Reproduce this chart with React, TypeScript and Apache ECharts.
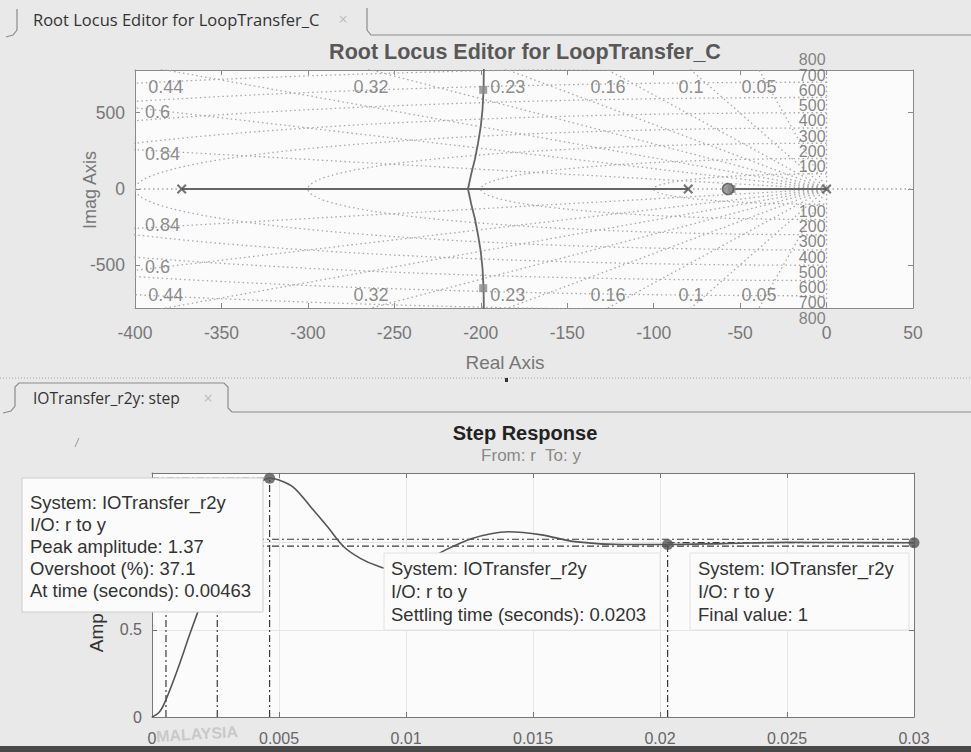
import React, { useEffect, useRef } from "react";
import * as echarts from "echarts";

// ---------- Root locus ----------
const rlXMin = -400;
const rlXMax = 50;
const rlXStep = 50;
const rlYLimit = 780;
const rlYTicks = [-500, 0, 500];
const openLoopPoles = [[-373, 0], [-80, 0], [0, 0]];
const openLoopZeros = [[-57, 0]];
const closedLoopPoles = [[-198.6, 650], [-198.6, -650], [-55, 0]];
const realLocusA = [[-373, 0], [-80, 0]];
const realLocusB = [[-57, 0], [0, 0]];
const branchReal = [-207.4, -205.5, -203.4, -201.6, -200, -199, -198.4, -198.2];
const branchImag = [0, 100, 195, 300, 410, 520, 650, 800];
const dampingRatios = [0.05, 0.1, 0.16, 0.23, 0.32, 0.44, 0.6, 0.84];
const naturalFreqs = [100, 200, 300, 400, 500, 600, 700, 800];

// ---------- Step response ----------
const stepTime = [
  0, 0.0003, 0.00055, 0.001, 0.0015, 0.002, 0.00257, 0.003, 0.0035, 0.004, 0.0043,
  0.00463, 0.005, 0.00557, 0.00625, 0.00692, 0.00755, 0.00822, 0.00889, 0.0094, 0.01,
  0.0108, 0.01166, 0.01257, 0.0133, 0.01403, 0.01534, 0.01664, 0.0185, 0.0203, 0.0225,
  0.025, 0.0275, 0.03,
];
const stepAmp = [
  0, 0.03, 0.1, 0.27, 0.48, 0.68, 0.9, 1.05, 1.19, 1.3, 1.35,
  1.37, 1.36, 1.318, 1.205, 1.09, 0.977, 0.909, 0.866, 0.848, 0.855,
  0.9, 0.966, 1.023, 1.05, 1.0625, 1.045, 1.006, 0.99, 0.99, 0.995,
  1.002, 1.001, 1.0,
];
const peakTime = 0.00463;
const peakAmp = 1.37;
const riseTimes = [0.00055, 0.00257];
const riseLevel = 0.9;
const settlingTime = 0.0203;
const settlingAmp = 0.99;
const settlingBand = [0.98, 1.02];
const finalValue = 1;
const stepTMax = 0.03;
const stepYMax = 1.4;
const stepXStep = 0.005;
const stepYStep = 0.5;
const stepYLabels = [0, 0.5];

const peakText = [
  "System: IOTransfer_r2y",
  "I/O: r to y",
  "Peak amplitude: 1.37",
  "Overshoot (%): 37.1",
  "At time (seconds): 0.00463",
];
const settleText = ["System: IOTransfer_r2y", "I/O: r to y", "Settling time (seconds): 0.0203"];
const finalText = ["System: IOTransfer_r2y", "I/O: r to y", "Final value: 1"];

const FONT = '"Liberation Sans", Arial, Helvetica, sans-serif';
const UI_FONT = '"Open Sans", "Noto Sans", sans-serif';

function buildOption() {
  const dotted = { color: "#a9a9a9", width: 1.3, type: [1.5, 3] };
  const dashDot = { color: "#3a3a3a", width: 1.2, type: [7, 3, 2, 3] };
  const series: any[] = [];
  const top = { xAxisIndex: 0, yAxisIndex: 0 };
  const bot = { xAxisIndex: 2, yAxisIndex: 2 };
  const line = (data: number[][], lineStyle: any, idx: any, z = 1, extra: any = {}) => ({
    type: "line",
    ...idx,
    data,
    showSymbol: false,
    symbol: "none",
    lineStyle,
    silent: true,
    z,
    ...extra,
  });

  // s-plane grid: damping rays
  const R = 4000;
  dampingRatios.forEach((z) => {
    const s = Math.sqrt(1 - z * z);
    series.push(line([[0, 0], [-z * R, s * R]], dotted, top));
    series.push(line([[0, 0], [-z * R, -s * R]], dotted, top));
  });
  series.push(line([[rlXMin, 0], [rlXMax, 0]], dotted, top));
  series.push(line([[0, -rlYLimit], [0, rlYLimit]], dotted, top));
  // natural frequency circles
  naturalFreqs.forEach((wn) => {
    const pts: number[][] = [];
    for (let a = 90; a <= 270; a += 2) {
      const r = (a * Math.PI) / 180;
      pts.push([wn * Math.cos(r), wn * Math.sin(r)]);
    }
    series.push(line(pts, dotted, top));
  });

  // locus
  const locusStyle = { color: "#666", width: 2, type: "solid" };
  series.push(line(realLocusA, locusStyle, top, 3));
  series.push(line(realLocusB, locusStyle, top, 3));
  series.push(line(branchReal.map((x, i) => [x, branchImag[i]]), { ...locusStyle, width: 1.8 }, top, 3));
  series.push(line(branchReal.map((x, i) => [x, -branchImag[i]]), { ...locusStyle, width: 1.8 }, top, 3));

  series.push({
    type: "scatter",
    ...top,
    data: openLoopPoles,
    symbol:
      "path://M0,1.5L1.5,0L5,3.5L8.5,0L10,1.5L6.5,5L10,8.5L8.5,10L5,6.5L1.5,10L0,8.5L3.5,5Z",
    symbolSize: 10,
    itemStyle: { color: "#555" },
    silent: true,
    z: 5,
  });
  series.push({
    type: "scatter",
    ...top,
    data: closedLoopPoles,
    symbol: "rect",
    symbolSize: 8,
    itemStyle: { color: "#8a8a8a" },
    silent: true,
    z: 5,
  });
  series.push({
    type: "scatter",
    ...top,
    data: openLoopZeros,
    symbol: "circle",
    symbolSize: 11,
    itemStyle: { color: "#8a8a8a", borderColor: "#555", borderWidth: 1.5 },
    silent: true,
    z: 6,
  });

  // damping labels
  const zetaLabels: any[] = [];
  dampingRatios.forEach((z) => {
    const s = Math.sqrt(1 - z * z);
    const xTop = (-z * rlYLimit) / s;
    if (xTop >= rlXMin) {
      zetaLabels.push({ value: [xTop, rlYLimit], name: String(z), label: { offset: [0, 17] } });
      zetaLabels.push({ value: [xTop, -rlYLimit], name: String(z), label: { offset: [0, -13] } });
    } else {
      const y = (s * -rlXMin) / z;
      zetaLabels.push({ value: [rlXMin, y], name: String(z), label: { align: "left", offset: [10, 4] } });
      zetaLabels.push({ value: [rlXMin, -y], name: String(z), label: { align: "left", offset: [10, -3] } });
    }
  });
  series.push({
    type: "scatter",
    ...top,
    data: zetaLabels,
    symbolSize: 1,
    itemStyle: { color: "rgba(0,0,0,0)" },
    clip: false,
    silent: true,
    z: 7,
    label: {
      show: true,
      position: "inside",
      formatter: (p: any) => p.name,
      color: "#6f6f6f",
      fontSize: 18,
      fontFamily: FONT,
    },
  });
  // natural frequency labels
  const wnLabels: any[] = [];
  naturalFreqs.forEach((wn) => {
    wnLabels.push({ value: [0, wn], name: String(wn), label: { offset: [-1, -7] } });
    wnLabels.push({ value: [0, -wn], name: String(wn), label: { offset: [-1, 7] } });
  });
  series.push({
    type: "scatter",
    ...top,
    data: wnLabels,
    symbolSize: 1,
    itemStyle: { color: "rgba(0,0,0,0)" },
    clip: false,
    silent: true,
    z: 7,
    label: {
      show: true,
      position: "inside",
      align: "right",
      formatter: (p: any) => p.name,
      color: "#666",
      fontSize: 16,
      fontFamily: FONT,
    },
  });

  // ---- step response ----
  series.push(
    line(stepTime.map((t, i) => [t, stepAmp[i]]), { color: "#555", width: 1.6, type: "solid" }, bot, 4, {
      smooth: 0.35,
    })
  );
  series.push(line([[0, peakAmp], [peakTime, peakAmp]], dashDot, bot, 3));
  series.push(line([[peakTime, 0], [peakTime, peakAmp]], dashDot, bot, 3));
  riseTimes.forEach((t) => series.push(line([[t, 0], [t, riseLevel]], dashDot, bot, 3)));
  settlingBand.forEach((v) => series.push(line([[0, v], [stepTMax, v]], dashDot, bot, 3)));
  series.push(line([[settlingTime, finalValue], [stepTMax, finalValue]], dashDot, bot, 3));
  series.push(line([[settlingTime, 0], [settlingTime, settlingAmp]], dashDot, bot, 3));
  series.push({
    type: "scatter",
    ...bot,
    data: [
      [peakTime, peakAmp],
      [settlingTime, settlingAmp],
      [stepTMax, finalValue],
    ],
    symbol: "circle",
    symbolSize: 11,
    itemStyle: { color: "#555" },
    clip: false,
    silent: true,
    z: 6,
  });

  const axisLineStyle = { color: "#8a8a8a", width: 1 };
  const tick = { show: true, inside: true, length: 5, lineStyle: { color: "#8a8a8a" } };

  const xAxis: any[] = [
    {
      gridIndex: 0,
      type: "value",
      position: "bottom",
      min: rlXMin,
      max: rlXMax,
      interval: rlXStep,
      axisLine: { show: true, onZero: false, lineStyle: axisLineStyle },
      axisTick: tick,
      axisLabel: { color: "#777", fontSize: 17.5, fontFamily: FONT, margin: 16 },
      splitLine: { show: false },
    },
    {
      gridIndex: 0,
      type: "value",
      position: "top",
      min: rlXMin,
      max: rlXMax,
      interval: rlXStep,
      axisLine: { show: true, onZero: false, lineStyle: axisLineStyle },
      axisTick: tick,
      axisLabel: { show: false },
      splitLine: { show: false },
    },
    {
      gridIndex: 1,
      type: "value",
      position: "bottom",
      min: 0,
      max: stepTMax,
      interval: stepXStep,
      axisLine: { show: true, onZero: false, lineStyle: { color: "#777" } },
      axisTick: { ...tick, lineStyle: { color: "#777" } },
      axisLabel: { color: "#666", fontSize: 16, fontFamily: FONT, margin: 13 },
      splitLine: { show: true, lineStyle: { color: "#e6e6e6", width: 1 } },
    },
    {
      gridIndex: 1,
      type: "value",
      position: "top",
      min: 0,
      max: stepTMax,
      interval: stepXStep,
      axisLine: { show: true, onZero: false, lineStyle: { color: "#777" } },
      axisTick: { ...tick, lineStyle: { color: "#777" } },
      axisLabel: { show: false },
      splitLine: { show: false },
    },
  ];
  const yAxis: any[] = [
    {
      gridIndex: 0,
      type: "value",
      position: "left",
      min: -rlYLimit,
      max: rlYLimit,
      axisLine: { show: true, onZero: false, lineStyle: axisLineStyle },
      axisTick: { ...tick, customValues: rlYTicks },
      axisLabel: { color: "#777", fontSize: 17.5, fontFamily: FONT, margin: 10, customValues: rlYTicks },
      splitLine: { show: false },
    },
    {
      gridIndex: 0,
      type: "value",
      position: "right",
      min: -rlYLimit,
      max: rlYLimit,
      axisLine: { show: true, onZero: false, lineStyle: axisLineStyle },
      axisTick: { ...tick, customValues: rlYTicks },
      axisLabel: { show: false },
      splitLine: { show: false },
    },
    {
      gridIndex: 1,
      type: "value",
      position: "left",
      min: 0,
      max: stepYMax,
      interval: stepYStep,
      axisLine: { show: true, onZero: false, lineStyle: { color: "#777" } },
      axisTick: { ...tick, lineStyle: { color: "#777" } },
      axisLabel: { color: "#666", fontSize: 16, fontFamily: FONT, margin: 10, customValues: stepYLabels },
      splitLine: { show: true, lineStyle: { color: "#e6e6e6", width: 1 } },
    },
    {
      gridIndex: 1,
      type: "value",
      position: "right",
      min: 0,
      max: stepYMax,
      interval: stepYStep,
      axisLine: { show: true, onZero: false, lineStyle: { color: "#777" } },
      axisTick: { ...tick, lineStyle: { color: "#777" } },
      axisLabel: { show: false },
      splitLine: { show: false },
    },
  ];

  const txt = (t: string, x: number, y: number, font: string, fill: string, o: any = {}) => ({
    type: "text",
    x,
    y,
    z: o.z ?? 50,
    rotation: o.rotation ?? 0,
    silent: true,
    style: { text: t, font, fill, align: o.align ?? "left", verticalAlign: "middle" },
  });
  const pl = (points: number[][], stroke: string, lineWidth = 1, dash: any = null, z = 40) => ({
    type: "polyline",
    z,
    silent: true,
    shape: { points },
    style: { stroke, lineWidth, fill: null, lineDash: dash },
  });
  const box = (x: number, y: number, w: number, h: number, stroke: string) => ({
    type: "rect",
    z: 100,
    silent: true,
    shape: { x, y, width: w, height: h },
    style: { fill: "#fbfbfb", stroke, lineWidth: 1 },
  });

  const elements: any[] = [
    // tabs and panel chrome
    pl([[6, 37], [13, 35], [17, 30], [17, 9]], "#8c8c8c", 1.2),
    pl([[367, 8], [367, 30], [371, 35], [971, 35]], "#8c8c8c", 1.2),
    txt("Root Locus Editor for LoopTransfer_C", 33, 19, `16.5px ${UI_FONT}`, "#333"),
    txt("×", 343, 19, `16px ${UI_FONT}`, "#bdbdbd", { align: "center" }),
    pl([[0, 378], [971, 378]], "#a0a0a0", 1, [1, 2]),
    { type: "rect", z: 41, silent: true, shape: { x: 505, y: 378, width: 3, height: 4 }, style: { fill: "#333" } },
    pl(
      [[3, 413], [11, 411], [15, 406], [15, 387], [19, 383], [224, 383], [228, 387], [228, 408], [232, 412], [971, 412]],
      "#8c8c8c",
      1.2
    ),
    txt("IOTransfer_r2y: step", 33, 398, `15.6px ${UI_FONT}`, "#333"),
    txt("×", 208, 398, `16px ${UI_FONT}`, "#bdbdbd", { align: "center" }),
    pl([[75, 447], [79, 438]], "#9a9a9a", 1),
    { type: "rect", z: 41, silent: true, shape: { x: 0, y: 746, width: 971, height: 6 }, style: { fill: "#4a4a4a" } },

    // top plot texts
    txt("Root Locus Editor for LoopTransfer_C", 525, 52, `bold 21.5px ${FONT}`, "#585858", { align: "center" }),
    txt("Imag Axis", 90, 190, `18px ${FONT}`, "#777", { align: "center", rotation: Math.PI / 2 }),
    txt("Real Axis", 505, 362, `19px ${FONT}`, "#777", { align: "center" }),

    // bottom plot texts
    txt("Step Response", 525, 433, `bold 20px ${FONT}`, "#222", { align: "center" }),
    txt("From: r  To: y", 531, 455, `17px ${FONT}`, "#8a8a8a", { align: "center" }),
    txt("Amplitude", 96, 610, `19px ${FONT}`, "#333", { align: "center", rotation: Math.PI / 2, z: 1 }),
    txt("MALAYSIA", 197, 734, `bold 16px ${FONT}`, "#c9c9c9", { align: "center", rotation: 0.06, z: 45 }),

    // data tips
    box(22, 478, 241, 134, "#cdcdcd"),
    box(384, 553, 276, 77, "#e2e2e2"),
    box(690, 553, 219, 77, "#e2e2e2"),
  ];
  peakText.forEach((t, i) => elements.push(txt(t, 30, 502 + i * 22, `18.5px ${FONT}`, "#333", { z: 101 })));
  settleText.forEach((t, i) => elements.push(txt(t, 391, 568 + i * 23, `18.5px ${FONT}`, "#333", { z: 101 })));
  finalText.forEach((t, i) => elements.push(txt(t, 698, 568 + i * 23, `18.5px ${FONT}`, "#333", { z: 101 })));

  return {
    animation: false,
    backgroundColor: "#e9e9e9",
    grid: [
      { left: 135, top: 70, width: 778, height: 238, show: true, backgroundColor: "#fbfbfb", borderWidth: 0, outerBoundsMode: "none", containLabel: false },
      { left: 152, top: 473, width: 762, height: 244, show: true, backgroundColor: "#fbfbfb", borderWidth: 0, outerBoundsMode: "none", containLabel: false },
    ],
    xAxis,
    yAxis,
    series,
    graphic: { elements },
  };
}

export default function App() {
  const ref = useRef<HTMLDivElement>(null);
  useEffect(() => {
    document.body.style.margin = "0";
    const chart = echarts.init(ref.current as HTMLDivElement, undefined, { renderer: "svg" });
    chart.setOption(buildOption() as any);
    return () => chart.dispose();
  }, []);
  return <div ref={ref} style={{ width: 971, height: 752 }} />;
}
